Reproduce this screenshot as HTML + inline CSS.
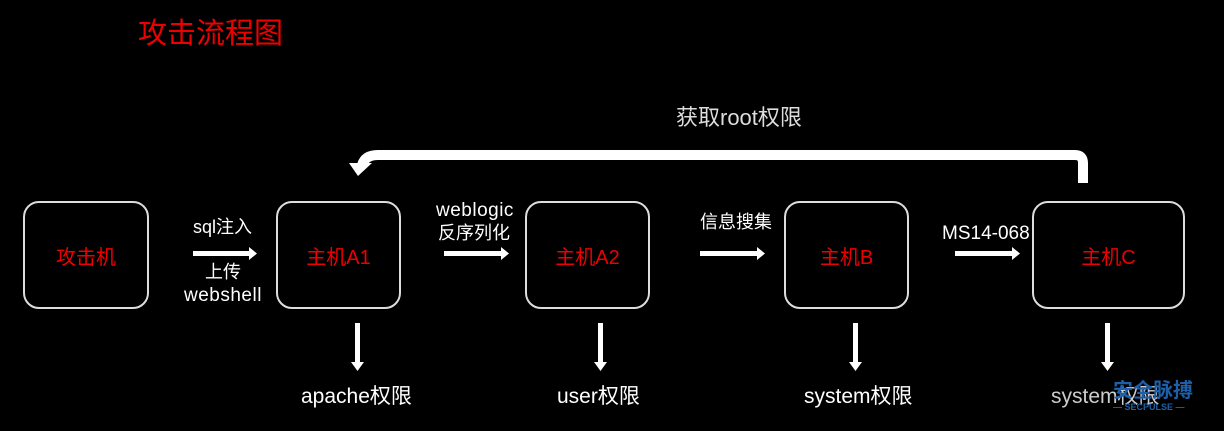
<!DOCTYPE html>
<html><head><meta charset="utf-8"><style>
body{margin:0;width:1224px;height:431px;background:#000;overflow:hidden;position:relative;font-family:"Liberation Sans","Noto Sans CJK SC",sans-serif}
.t{position:absolute;color:#fff;white-space:nowrap;line-height:1}
.box{position:absolute;border:2px solid #ddd;border-radius:16px;box-sizing:border-box;color:#e00;font-size:20px;display:flex;align-items:center;justify-content:center}
</style></head><body>
<div class="t" style="left:138px;top:20px;color:#e00;font-size:29px">攻击流程图</div>
<div class="t" style="left:676px;top:107px;font-size:22px;color:#ddd">获取root权限</div>
<svg style="position:absolute;left:0;top:0" width="1224" height="431">
<path d="M1083 183 V163 Q1083 155 1075 155 H378 Q365 155 362 165" stroke="#fff" stroke-width="10" fill="none"/>
<polygon points="349,163 372,163 358,176" fill="#fff"/>
<g fill="#fff">
<rect x="193" y="251" width="56" height="5"/><polygon points="249,247 257,253.5 249,260"/>
<rect x="444" y="251" width="57" height="5"/><polygon points="501,247 509,253.5 501,260"/>
<rect x="700" y="251" width="57" height="5"/><polygon points="757,247 765,253.5 757,260"/>
<rect x="955" y="251" width="57" height="5"/><polygon points="1012,247 1020,253.5 1012,260"/>
<rect x="355" y="323" width="5" height="40"/><polygon points="351,362 364,362 357.5,371"/>
<rect x="598" y="323" width="5" height="40"/><polygon points="594,362 607,362 600.5,371"/>
<rect x="853" y="323" width="5" height="40"/><polygon points="849,362 862,362 855.5,371"/>
<rect x="1105" y="323" width="5" height="40"/><polygon points="1101,362 1114,362 1107.5,371"/>
</g></svg>
<div class="box" style="left:23px;top:201px;width:126px;height:108px">攻击机</div>
<div class="box" style="left:276px;top:201px;width:125px;height:108px">主机A1</div>
<div class="box" style="left:525px;top:201px;width:125px;height:108px">主机A2</div>
<div class="box" style="left:784px;top:201px;width:125px;height:108px">主机B</div>
<div class="box" style="left:1032px;top:201px;width:153px;height:108px">主机C</div>
<div class="t" style="left:193px;top:218px;font-size:18px">sql注入</div>
<div class="t" style="left:205px;top:263px;font-size:18px">上传</div>
<div class="t" style="left:184px;top:286px;font-size:19px;letter-spacing:0.5px">webshell</div>
<div class="t" style="left:436px;top:201px;font-size:19px;letter-spacing:0.5px">weblogic</div>
<div class="t" style="left:438px;top:224px;font-size:18px">反序列化</div>
<div class="t" style="left:700px;top:213px;font-size:18px">信息搜集</div>
<div class="t" style="left:942px;top:224px;font-size:19px">MS14-068</div>
<div class="t" style="left:301px;top:386px;font-size:21px">apache权限</div>
<div class="t" style="left:557px;top:386px;font-size:21px">user权限</div>
<div class="t" style="left:804px;top:386px;font-size:21px">system权限</div>
<div class="t" style="left:1051px;top:386px;font-size:21px;color:#ccc">system权限</div>
<div class="t" style="left:1113px;top:381px;font-size:20px;font-weight:bold;color:#1d5fa8">安全脉搏</div>
<div class="t" style="left:1113px;top:403px;font-size:9px;font-weight:bold;color:#1d5fa8">— SECPULSE —</div>
</body></html>
